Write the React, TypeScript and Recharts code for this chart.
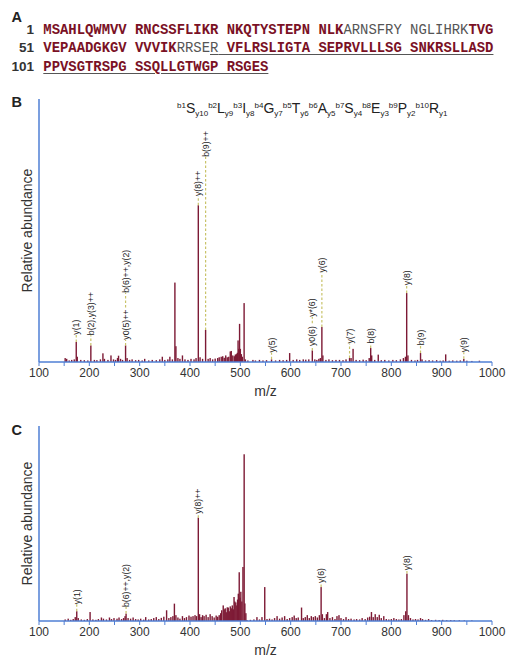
import React from "react";
import { ComposedChart, Bar, Scatter, XAxis, YAxis, ReferenceLine } from "recharts";

// panel A: protein sequence, [text, kind] — m matched, u unmatched, mu/uu underlined
const seqStarts = ["1", "51", "101"];
const seqRow1: [string, string][] = [
  ["MSAHLQWMVV RNCSSFLIKR NKQTYSTEPN NLK", "m"],
  ["ARNSFRY NGLIHRK", "u"],
  ["TVG", "m"],
];
const seqRow2: [string, string][] = [
  ["VEPAADGKGV VVVIK", "m"],
  ["RRSE", "u"],
  ["R", "uu"],
  [" VFLRSLIGTA SEPRVLLLSG SNKRSLLASD", "mu"],
];
const seqRow3: [string, string][] = [["PPVSGTRSPG SSQLLGTWGP RSGES", "mu"]];

// peptide fragment map for panel B
const peptide = ["S", "L", "I", "G", "T", "A", "S", "E", "P", "R"];

const mzTicks = [100, 150, 200, 250, 300, 350, 400, 450, 500, 550, 600, 650, 700, 750, 800, 850, 900, 950, 1000];

// panel B peaks: [m/z, relative height %]
const peaksB: [number, number][] = [
  [152, 1.5], [155, 1.2], [160, 0.6], [165, 0.8], [170, 1.0], [174, 7.6], [176, 2.0], [183, 0.8],
  [190, 0.7], [197, 0.6], [203, 6.3], [210, 0.8], [215, 0.7], [222, 1.0], [227, 3.3], [230, 1.2],
  [237, 0.8], [243, 2.5], [248, 1.0], [252, 0.8], [256, 1.5], [258, 2.4], [262, 1.2], [266, 0.8],
  [272, 6.3], [275, 1.5], [280, 0.8], [285, 1.0], [292, 0.7], [298, 0.8], [305, 0.6], [310, 1.2],
  [318, 0.6], [325, 0.8], [333, 0.7], [340, 1.0], [345, 2.0], [350, 0.8], [356, 1.0], [360, 2.0],
  [365, 1.0], [370, 30.2], [372, 6.0], [376, 1.5], [380, 1.2], [385, 2.5], [390, 1.0], [396, 0.8],
  [402, 1.2], [408, 1.0], [412, 1.5], [416.5, 59.6], [420, 1.8], [425, 1.2], [431, 12.2], [436, 1.2],
  [440, 1.5], [445, 1.0], [450, 1.3], [455, 1.5], [458, 1.8], [462, 2.0], [465, 2.2], [468, 1.6],
  [471, 2.5], [474, 1.8], [477, 2.0], [480, 4.0], [482, 4.2], [485, 2.5], [488, 2.2], [490, 2.8],
  [492, 3.0], [494, 3.5], [495.5, 8.2], [497, 5.0], [498.5, 14.5], [500, 5.0], [502, 3.0], [504, 2.0],
  [507.5, 22.4], [510, 1.0], [515, 0.6], [525, 0.8], [530, 0.6], [538, 0.8], [545, 0.6], [552, 0.7],
  [562, 1.0], [570, 0.6], [578, 0.8], [585, 0.7], [592, 0.8], [598, 3.4], [605, 0.8], [612, 1.0],
  [618, 0.8], [625, 1.0], [630, 0.9], [636, 1.0], [643, 4.4], [648, 1.0], [652, 0.8], [656, 1.2],
  [659, 1.5], [662, 13.3], [664, 2.5], [670, 0.8], [676, 1.0], [683, 0.7], [690, 0.8], [697, 0.8],
  [704, 0.7], [710, 1.0], [717, 1.5], [720, 1.5], [724, 5.0], [730, 0.8], [737, 0.7], [744, 0.9],
  [750, 0.7], [756, 1.5], [759, 5.3], [761, 2.5], [767, 0.8], [774, 2.8], [780, 0.7], [787, 0.8],
  [795, 0.6], [803, 0.8], [810, 0.7], [818, 1.0], [824, 1.5], [828, 2.0], [830.5, 26.2], [833, 2.5],
  [840, 0.8], [847, 0.6], [852, 0.8], [858, 3.4], [861, 1.0], [868, 0.6], [875, 0.7], [882, 0.6],
  [890, 0.7], [897, 0.5], [903, 0.6], [908, 2.9], [915, 0.5], [922, 0.6], [930, 0.5], [937, 0.6],
  [944, 1.2], [950, 0.5], [960, 0.4], [975, 0.5],
];

// annotations: [m/z, dash from, label base, text]
const notesB: [number, number, number, string][] = [
  [174, 7.6, 10.4, "y(1)"],
  [203, 6.3, 10.2, "b(2),y(3)++"],
  [272, 6.3, 8.5, "y0(5)++"],
  [272, 20.7, 26.3, "b(6)++,y(2)"],
  [416.5, 59.6, 63.1, "y(8)++"],
  [431, 12.2, 78, "b(9)++"],
  [562, 1.0, 3.6, "y(5)"],
  [643, 4.4, 6.1, "y0(6)"],
  [643, 14.7, 17.2, "y*(6)"],
  [662, 13.3, 34, "y(6)"],
  [717, 1.5, 7, "y(7)"],
  [759, 5.3, 7, "b(8)"],
  [830.5, 26.2, 29.2, "y(8)"],
  [858, 3.4, 6.4, "b(9)"],
  [944, 1.2, 3.7, "y(9)"],
];

// panel C peaks
const peaksC: [number, number][] = [
  [152, 0.8], [158, 1.2], [163, 0.6], [168, 1.0], [172, 2.0], [175, 5.0], [178, 1.5], [184, 0.8],
  [190, 0.6], [196, 1.0], [201.5, 4.6], [207, 0.8], [213, 0.6], [218, 1.0], [224, 1.8], [228, 1.2],
  [234, 0.8], [240, 1.8], [244, 1.0], [249, 1.5], [255, 1.2], [259, 1.8], [264, 1.0], [268, 1.5],
  [271, 2.5], [273, 3.8], [277, 1.5], [282, 1.2], [287, 1.8], [292, 1.0], [297, 0.8], [302, 1.2],
  [308, 0.7], [312, 2.0], [318, 0.8], [323, 1.0], [328, 1.5], [333, 2.0], [338, 1.0], [343, 1.6],
  [348, 2.2], [353.5, 5.5], [358, 1.5], [362, 2.0], [366, 2.5], [369, 8.9], [372, 3.0], [376, 1.8],
  [380, 1.2], [385, 2.5], [389, 1.5], [393, 2.0], [398, 2.8], [402, 2.2], [406, 2.5], [410, 3.0],
  [413, 2.5], [416.5, 53.0], [419, 3.5], [422, 2.0], [425, 3.0], [428, 2.5], [432, 3.2], [436, 2.0],
  [440, 3.5], [444, 2.5], [448, 1.8], [452, 2.8], [455, 2.2], [458, 3.0], [461, 4.0], [463, 5.5],
  [466, 8.0], [468, 6.0], [470, 6.5], [472, 4.5], [474, 7.0], [476, 6.9], [478, 5.0], [480, 7.5],
  [482, 6.5], [484, 8.0], [486, 6.0], [487.5, 12.3], [489, 10.0], [491, 9.5], [493, 8.0], [494.5, 11.0],
  [496, 14.0], [497.8, 25.0], [499.5, 12.0], [501, 15.0], [503, 10.0], [505.2, 27.7], [507.6, 85.5], [509, 9.0],
  [511, 4.0], [513, 0.5], [520, 0.6], [527, 0.8], [533, 2.0], [538, 0.8], [543, 2.0], [548.5, 17.4],
  [553, 1.0], [558, 1.2], [563, 0.8], [568, 1.5], [573, 2.5], [578, 1.2], [583, 1.8], [588, 2.5],
  [593, 1.0], [598, 1.5], [603, 2.0], [607, 2.8], [611, 1.5], [615, 1.8], [621.6, 6.9], [625, 1.5],
  [629, 2.0], [633, 3.0], [637, 1.5], [641, 2.5], [645, 2.0], [649, 2.5], [653, 1.8], [657, 3.0],
  [660.5, 17.4], [663, 3.5], [667, 1.5], [671, 3.5], [673.5, 4.6], [678, 1.5], [683, 2.0], [688, 1.0],
  [692, 2.5], [696, 3.0], [700, 1.5], [705, 1.0], [710, 2.0], [715, 1.0], [720, 1.2], [726, 0.8],
  [731, 1.0], [737, 0.8], [742, 1.5], [748, 1.0], [753, 1.8], [757, 2.2], [760.5, 4.6], [764, 2.0],
  [768, 3.5], [772, 2.0], [776, 3.2], [780, 1.5], [785, 2.5], [790, 1.0], [795, 0.8], [800, 1.0],
  [805, 1.5], [810, 1.0], [815, 0.8], [820, 1.0], [825, 3.0], [828.6, 5.0], [831, 24.3], [834, 3.0],
  [838, 1.5], [843, 0.8], [848, 1.0], [853, 0.8], [858, 1.5], [862, 1.0], [868, 0.6], [874, 1.0],
  [880, 0.5], [888, 0.6], [895, 0.5], [902, 0.6], [910, 0.4], [918, 0.5], [925, 0.4], [935, 0.4],
  [945, 0.3], [960, 0.3],
];

const notesC: [number, number, number, string][] = [
  [175, 5.0, 8.6, "y(1)"],
  [273, 3.8, 7.2, "b(6)++,y(2)"],
  [416.5, 53.0, 55, "y(8)++"],
  [660.5, 17.4, 19.5, "y(6)"],
  [831, 24.3, 26, "y(8)"],
];

const PEAK = "#7d1a35";
const AXIS = "#4f7fd4";
const DASH = "#c9c36a";

const Stick = (p: any) => {
  const { x, y, width, height } = p;
  if (!height || height <= 0) return <g />;
  return <rect x={x + width / 2 - 0.7} y={y} width={1.4} height={height} fill={PEAK} />;
};

const NoteText = (p: any) => {
  const { cx, cy, payload } = p;
  return (
    <text
      x={cx}
      y={cy}
      transform={`rotate(-90 ${cx} ${cy})`}
      fontSize={8.7}
      fill="#222"
      dominantBaseline="central"
    >
      {payload.text}
    </text>
  );
};

const XLabel = (p: any) => {
  const vb = p.viewBox || {};
  return (
    <text x={vb.x + vb.width / 2} y={vb.y + 34} textAnchor="middle" fontSize={14} fill="#333">
      m/z
    </text>
  );
};

const YLabel = (p: any) => {
  const vb = p.viewBox || {};
  const x = vb.x + vb.width - 7;
  const y = vb.y + vb.height / 2;
  return (
    <text x={x} y={y} transform={`rotate(-90 ${x} ${y})`} textAnchor="middle" fontSize={14} fill="#333">
      Relative abundance
    </text>
  );
};

function Spectrum({ peaks, notes, top, height, mTop, mBottom }: any) {
  const data = peaks.map(([mz, v]: [number, number]) => ({ mz, v }));
  const labels = notes.map(([mz, from, base, text]: any) => ({ mz, from, base, text }));
  return (
    <div style={{ position: "absolute", left: 0, top }}>
      <ComposedChart
        width={508}
        height={height}
        data={data}
        margin={{ top: mTop, right: 16, bottom: mBottom, left: 9 }}
      >
        <XAxis
          dataKey="mz"
          type="number"
          domain={[100, 1000]}
          ticks={mzTicks}
          interval={0}
          allowDataOverflow
          tickFormatter={(v: number) => (v % 100 === 0 ? String(v) : "")}
          stroke={AXIS}
          axisLine={{ stroke: AXIS, strokeWidth: 1.5 }}
          tickLine={{ stroke: AXIS }}
          tickSize={4}
          tick={{ fill: "#333", fontSize: 12 }}
          height={30}
          label={{ content: XLabel }}
        />
        <YAxis
          type="number"
          domain={[0, 100]}
          allowDataOverflow
          width={30}
          tick={false}
          tickLine={false}
          axisLine={{ stroke: AXIS, strokeWidth: 1.5 }}
          label={{ content: YLabel }}
        />
        <Bar dataKey="v" isAnimationActive={false} shape={Stick} />
        {labels.map((l: any, i: number) => (
          <ReferenceLine
            key={i}
            segment={[{ x: l.mz, y: l.from }, { x: l.mz, y: l.base }]}
            stroke={DASH}
            strokeWidth={1.2}
            strokeDasharray="2.5 2"
          />
        ))}
        <Scatter data={labels} dataKey="base" isAnimationActive={false} shape={NoteText} />
      </ComposedChart>
    </div>
  );
}

const segStyle = (kind: string): React.CSSProperties => {
  const matched = kind.startsWith("m");
  const under = kind.endsWith("u") && kind.length === 2;
  return {
    color: matched ? "#7a1125" : "#555",
    fontWeight: matched ? 700 : 400,
    textDecoration: under ? "underline" : "none",
    textDecorationColor: "#555",
    textDecorationThickness: "1px",
    textUnderlineOffset: "2px",
  };
};

export default function App() {
  const rows = [seqRow1, seqRow2, seqRow3];
  const n = peptide.length;
  return (
    <div
      style={{
        position: "absolute",
        left: 0,
        top: 0,
        width: 508,
        height: 663,
        background: "#fff",
        overflow: "hidden",
        fontFamily: '"Liberation Sans", Arial, sans-serif',
      }}
    >
      <div
        style={{
          position: "absolute",
          left: 0,
          top: 20.8,
          fontFamily: '"Liberation Mono", "Courier New", monospace',
          fontSize: 13.9,
          lineHeight: "17.5px",
          whiteSpace: "pre",
        }}
      >
        {rows.map((row, i) => (
          <div key={i}>
            <span
              style={{
                display: "inline-block",
                width: 34,
                textAlign: "right",
                fontFamily: '"Liberation Sans", Arial, sans-serif',
                fontWeight: 700,
                fontSize: 13.5,
                color: "#333",
              }}
            >
              {seqStarts[i]}
            </span>
            <span style={{ marginLeft: 9.3 }}>
              {row.map(([text, kind], j) => (
                <span key={j} style={segStyle(kind)}>
                  {text}
                </span>
              ))}
            </span>
          </div>
        ))}
      </div>

      <Spectrum peaks={peaksB} notes={notesB} top={90} height={320} mTop={9} mBottom={18} />
      <Spectrum peaks={peaksC} notes={notesC} top={416} height={247} mTop={10} mBottom={12} />

      <svg
        width={508}
        height={663}
        style={{ position: "absolute", left: 0, top: 0, pointerEvents: "none" }}
      >
        <text x={11.5} y={22} fontSize={14.5} fontWeight={700} fill="#222">A</text>
        <text x={11.5} y={107} fontSize={14.5} fontWeight={700} fill="#222">B</text>
        <text x={11.5} y={435} fontSize={14.5} fontWeight={700} fill="#222">C</text>
        <text x={177} y={113.3} fontSize={14} fill="#222">
          {peptide.map((aa, i) => (
            <React.Fragment key={i}>
              <tspan fontSize={8} dy={i === 0 ? -5 : -8}>{`b${i + 1}`}</tspan>
              <tspan dy={5}>{aa}</tspan>
              <tspan fontSize={8} dy={3}>{`y${n - i}`}</tspan>
            </React.Fragment>
          ))}
        </text>
      </svg>
    </div>
  );
}
